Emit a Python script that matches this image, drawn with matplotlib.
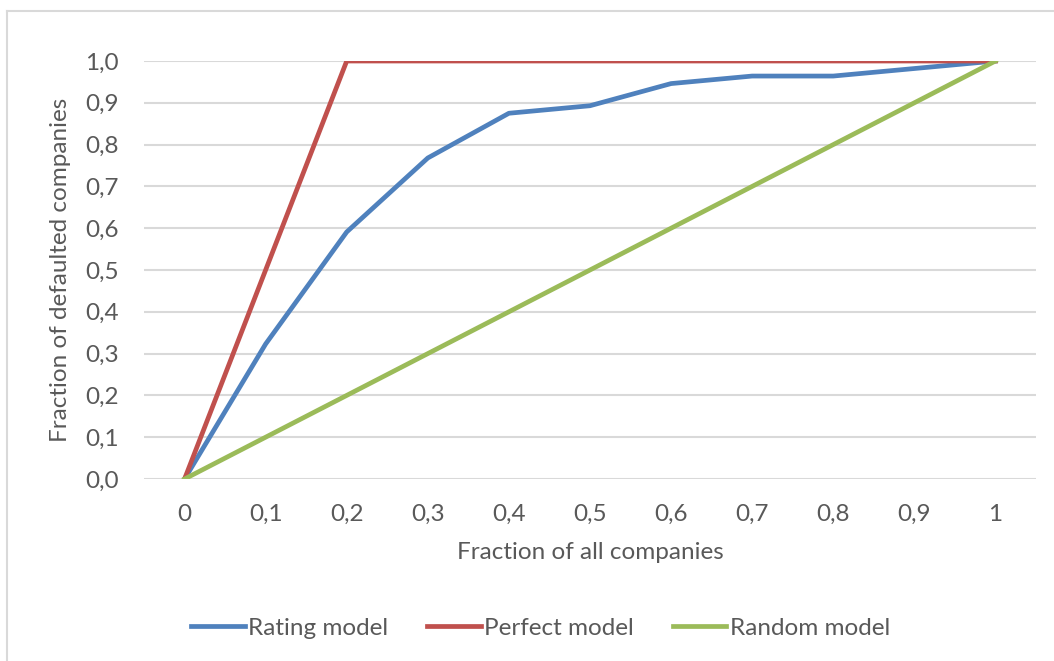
import numpy as np
import matplotlib.pyplot as plt
from matplotlib.lines import Line2D

# CAP curve data
fractions = ['0', '0,1', '0,2', '0,3', '0,4', '0,5', '0,6', '0,7', '0,8', '0,9', '1']
rating_model = [0.0, 0.323, 0.591, 0.768, 0.875, 0.893, 0.946, 0.964, 0.964, 0.982, 1.0]
perfect_model = [0.0, 0.5, 1.0, 1.0, 1.0, 1.0, 1.0, 1.0, 1.0, 1.0, 1.0]
random_model = [0.0, 0.1, 0.2, 0.3, 0.4, 0.5, 0.6, 0.7, 0.8, 0.9, 1.0]
yticks = [0.0, 0.1, 0.2, 0.3, 0.4, 0.5, 0.6, 0.7, 0.8, 0.9, 1.0]

plt.rcParams['font.family'] = ['Lato', 'DejaVu Sans']
txt = '#595959'
fs = 17.5
W, H = 1054, 661

fig = plt.figure(figsize=(W / 100, H / 100), dpi=100)
ax = fig.add_axes([144 / W, 1 - 479 / H, (1036 - 144) / W, (479 - 61) / H])

# chart frame (left and top edge)
fig.add_artist(Line2D([7 / W, 7 / W], [0, 1 - 11 / H], color='#d9d9d9', lw=1.5,
                      transform=fig.transFigure))
fig.add_artist(Line2D([7 / W, 1], [1 - 11 / H, 1 - 11 / H], color='#d9d9d9', lw=1.5,
                      transform=fig.transFigure))

x = np.arange(len(fractions))
ax.plot(x, rating_model, color='#4f81bd', lw=3.4, label='Rating model', zorder=3)
ax.plot(x, perfect_model, color='#c0504d', lw=3.4, label='Perfect model', zorder=3)
ax.plot(x, random_model, color='#9bbb59', lw=3.4, label='Random model', zorder=3)

ax.set_xlim(-0.5, len(fractions) - 0.5)
ax.set_ylim(0, 1.0)
ax.set_xticks(x)
ax.set_xticklabels(fractions)
ax.set_yticks(yticks)
ax.yaxis.set_major_formatter(plt.FuncFormatter(lambda v, p: ('%.1f' % v).replace('.', ',')))
ax.tick_params(length=0, labelsize=fs, labelcolor=txt)
ax.tick_params(axis='y', pad=18)
ax.tick_params(axis='x', pad=18)
ax.grid(axis='y', color='#d9d9d9', lw=1.5)
ax.set_axisbelow(True)
for s in ax.spines.values():
    s.set_visible(False)

ax.set_xlabel('Fraction of all companies', fontsize=fs, color=txt, labelpad=12)
ax.set_ylabel('Fraction of defaulted companies', fontsize=fs, color=txt, labelpad=10)

fig.legend(loc='center', bbox_to_anchor=(0.513, 1 - 628 / H), ncol=3, frameon=False,
           fontsize=fs, labelcolor=txt, handlelength=2.2, handletextpad=0.15,
           columnspacing=1.6)

fig.savefig('out.png', dpi=100, facecolor='white')
